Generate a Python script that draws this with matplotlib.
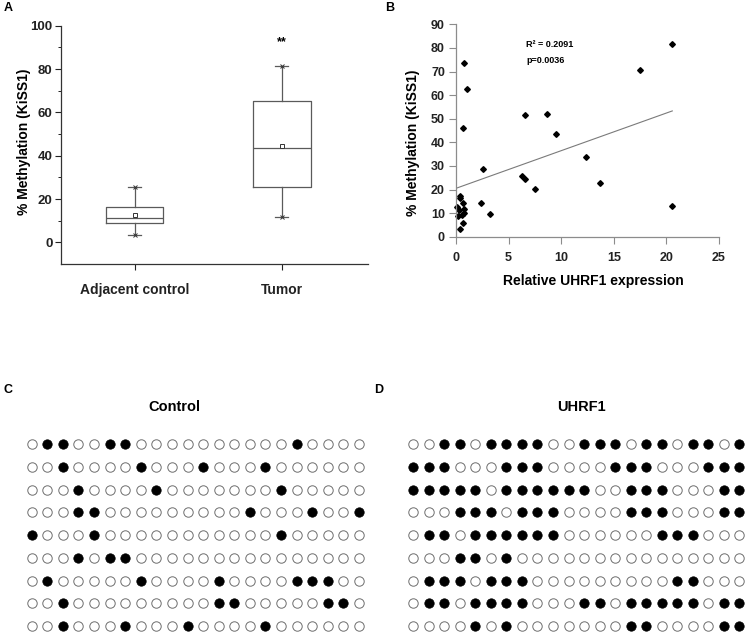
import matplotlib
matplotlib.use("Agg")
import matplotlib.pyplot as plt
import numpy as np

plt.rcParams["font.family"] = ["Liberation Sans", "DejaVu Sans"]
plt.rcParams["font.weight"] = "bold"
plt.rcParams["axes.labelweight"] = "bold"

W, H = 748, 634

# ── Panel A: box plot ──────────────────────────────────────
groups   = ["Adjacent control", "Tumor"]
box_q1   = [8.9, 25.5]
box_med  = [11.1, 43.7]
box_q3   = [16.3, 65.1]
box_mean = [12.5, 44.6]
box_lo   = [3.2, 11.5]
box_hi   = [25.5, 81.5]
sig_text = ["", "**"]
sig_y    = [None, 92.2]

# ── Panel B: scatter ───────────────────────────────────────
uhrf1_expr = [0.76, 1.05, 0.67, 6.53, 8.62, 9.54, 12.33, 13.72, 17.46, 20.56,
              20.53, 2.53, 6.24, 6.53, 7.54, 2.34, 3.23, 0.38, 0.40, 0.63,
              0.13, 0.32, 0.79, 0.22, 0.57, 0.80, 0.70, 0.38]
kiss1_meth = [73.7, 62.4, 46.2, 51.6, 52.1, 43.7, 33.6, 22.6, 70.6, 81.7,
              13.1, 28.7, 25.9, 24.6, 20.3, 14.4, 9.6, 17.3, 16.5, 14.3,
              12.4, 11.3, 11.6, 8.8, 9.2, 10.2, 5.7, 3.1]
trend_intercept = 20.5
trend_slope = 1.595
trend_xmax = 20.56
r2_label = "R² = 0.2091"
p_label = "p=0.0036"

# ── Panels C/D: bisulfite CpG maps (filled = methylated) ───
n_cpg = 22
control_meth = [
    [2, 3, 6, 7, 18],
    [3, 8, 12, 16],
    [4, 9, 17],
    [4, 5, 15, 19, 22],
    [1, 5, 17],
    [4, 6, 7],
    [2, 8, 13, 18, 19, 20],
    [3, 13, 14, 20, 21],
    [3, 7, 11, 16],
]
uhrf1_meth = [
    [3, 4, 6, 7, 8, 9, 12, 13, 14, 16, 17, 19, 20, 22],
    [1, 2, 3, 7, 8, 9, 14, 15, 16, 20, 21, 22],
    [1, 2, 3, 4, 5, 7, 8, 9, 10, 11, 12, 15, 16, 17, 21, 22],
    [4, 5, 6, 8, 9, 10, 15, 16, 17, 21, 22],
    [2, 3, 5, 6, 7, 8, 9, 10, 17, 18, 19],
    [4, 5, 7],
    [2, 3, 4, 6, 7, 8, 18, 19],
    [2, 3, 5, 6, 7, 8, 12, 13, 15, 16, 17, 18, 19, 21, 22],
    [5, 7, 15, 16, 21, 22],
]

fig = plt.figure(figsize=(W / 100, H / 100), dpi=100)
fig.patch.set_facecolor("white")


def px_axes(l, t, r, b):
    return fig.add_axes([l / W, 1 - b / H, (r - l) / W, (b - t) / H])


def px_text(x, y, s, **kw):
    kw.setdefault("ha", "center")
    kw.setdefault("va", "center")
    fig.text(x / W, 1 - y / H, s, **kw)


# panel letters
px_text(8, 8, "A", fontsize=9)
px_text(390, 8, "B", fontsize=9)
px_text(8, 390, "C", fontsize=9)
px_text(379, 390, "D", fontsize=9)

# ── A ──
axA = px_axes(61, 25.7, 368, 264)
stats = []
for i in range(len(groups)):
    stats.append(dict(med=box_med[i], q1=box_q1[i], q3=box_q3[i],
                      whislo=box_lo[i], whishi=box_hi[i], mean=box_mean[i],
                      fliers=[]))
edge = "#5a5a5a"
axA.bxp(stats, positions=[1, 2], widths=0.39, showmeans=True,
        capwidths=0.09,
        boxprops=dict(color=edge, linewidth=0.9),
        medianprops=dict(color=edge, linewidth=0.9),
        whiskerprops=dict(color=edge, linewidth=0.9),
        capprops=dict(color=edge, linewidth=0.9),
        meanprops=dict(marker="s", markersize=3, markerfacecolor="white",
                       markeredgecolor="#333333", markeredgewidth=0.7))
pos = np.arange(1, len(groups) + 1)
axA.plot(pos, box_hi, "x", color="#333333", markersize=2.5, markeredgewidth=0.7)
axA.plot(pos, box_lo, "x", color="#333333", markersize=2.5, markeredgewidth=0.7)
for p, s, y in zip(pos, sig_text, sig_y):
    if s:
        axA.text(p, y, s, ha="center", va="center", fontsize=9)

axA.set_xlim(0.5, 2.585)
axA.set_ylim(-10, 100)
axA.set_yticks(np.arange(0, 101, 20))
axA.set_yticks(np.arange(10, 100, 20), minor=True)
axA.set_xticks(pos)
axA.set_xticklabels(groups, fontsize=10)
axA.tick_params(axis="y", labelsize=9.5, length=4, width=0.8, pad=2, colors="#222222")
axA.tick_params(axis="y", which="minor", length=2.5, width=0.7, colors="#222222")
axA.tick_params(axis="x", length=4, width=0.8, pad=10, colors="#222222")
for side in ["top", "right"]:
    axA.spines[side].set_visible(False)
for side in ["left", "bottom"]:
    axA.spines[side].set_color("#333333")
    axA.spines[side].set_linewidth(0.9)
px_text(24, 142, "% Methylation (KiSS1)", rotation=90, fontsize=10)

# ── B ──
axB = px_axes(456, 24.3, 719, 236.7)
axB.plot(uhrf1_expr, kiss1_meth, "D", color="black", markersize=2.9,
         linestyle="none", clip_on=False)
tx = np.array([0, trend_xmax])
axB.plot(tx, trend_intercept + trend_slope * tx, color="#7a7a7a", linewidth=0.8)
axB.set_xlim(0, 25)
axB.set_ylim(0, 90)
axB.set_xticks(np.arange(0, 26, 5))
axB.set_yticks(np.arange(0, 91, 10))
axB.tick_params(axis="y", labelsize=9, length=5, width=0.8, pad=3,
                color="#8c8c8c", labelcolor="#222222")
axB.tick_params(axis="x", labelsize=9, length=5, width=0.8, pad=6,
                color="#8c8c8c", labelcolor="#222222")
for side in ["top", "right"]:
    axB.spines[side].set_visible(False)
for side in ["left", "bottom"]:
    axB.spines[side].set_color("#8c8c8c")
    axB.spines[side].set_linewidth(0.9)
axB.text(6.65, 81.5, r2_label, ha="left", va="center", fontsize=6.5)
axB.text(6.65, 74.7, p_label, ha="left", va="center", fontsize=6.5)
px_text(413, 143, "% Methylation (KiSS1)", rotation=90, fontsize=10)
px_text(593, 281, "Relative UHRF1 expression", fontsize=10)


# ── C / D ──
def cpg_panel(ax, rows):
    cols = np.arange(1, n_cpg + 1)
    for r, filled in enumerate(rows, start=1):
        full = np.isin(cols, filled)
        ax.scatter(cols[~full], np.full((~full).sum(), r), s=46,
                   facecolor="white", edgecolor="#6e6e6e", linewidth=0.7,
                   clip_on=False)
        ax.scatter(cols[full], np.full(full.sum(), r), s=46,
                   facecolor="black", edgecolor="black", linewidth=0.5,
                   clip_on=False)
    ax.set_xlim(0.5, n_cpg + 0.5)
    ax.set_ylim(len(rows) + 0.5, 0.5)
    ax.axis("off")


axC = px_axes(31.7 - 7.8, 444.3 - 11.35, 359 + 7.8, 626 + 11.35)
cpg_panel(axC, control_meth)
axD = px_axes(413.3 - 7.76, 444.3 - 11.35, 739.3 + 7.76, 626 + 11.35)
cpg_panel(axD, uhrf1_meth)
px_text(174, 407, "Control", fontsize=10.5)
px_text(581, 407, "UHRF1", fontsize=10.5)

fig.savefig("out.png", dpi=100, facecolor="white")
